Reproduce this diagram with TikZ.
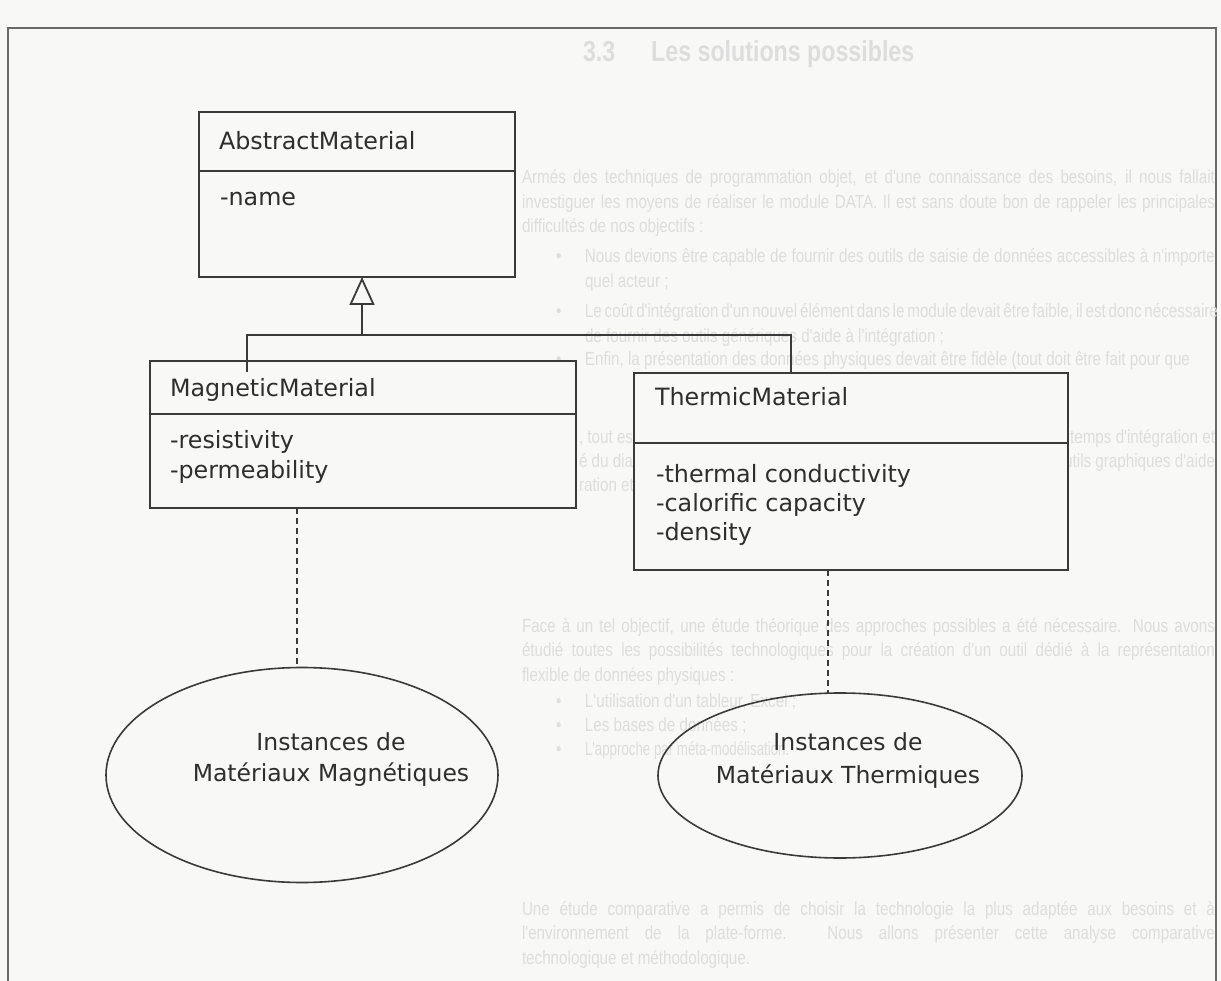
\documentclass[tikz,border=0pt]{standalone}
\usepackage{fontspec}
\setmainfont{DejaVu Sans}
\newfontfamily\ghostfont[FakeStretch=0.8]{Liberation Sans}
\newfontfamily\ghostnarrow[FakeStretch=0.7]{Liberation Sans}
\usetikzlibrary{arrows.meta,shapes.geometric}

\definecolor{paper}{RGB}{248,248,247}
\definecolor{ink}{RGB}{46,46,46}
\definecolor{edge}{RGB}{58,58,58}
\definecolor{ghostc}{RGB}{221,221,221}
\definecolor{framec}{RGB}{105,105,105}

% one justified line of the faint page text, and a last (ragged) line
\newcommand\gjust[2]{\hbox to #1{#2}}
\newcommand\glast[1]{\hbox{#1}}
\newcommand\gpar[1]{\vtop{\baselineskip=24.5pt #1}}

\begin{document}
\begin{tikzpicture}[x=1pt,y=-1pt,
  every node/.style={inner sep=0pt, outer sep=0pt},
  classbox/.style={draw=edge, line width=2pt, fill=paper, rectangle, anchor=north west},
  umltext/.style={anchor=base west, text=ink, font=\fontsize{23.8}{30}\selectfont},
  insttext/.style={anchor=base, text=ink, font=\fontsize{23.5}{30}\selectfont},
  divider/.style={draw=edge, line width=2pt},
  inherit/.style={draw=edge, line width=1.8pt},
  instline/.style={draw=edge, line width=1.8pt, dash pattern=on 6pt off 4pt},
  instance/.style={ellipse, draw=edge, line width=1.6pt},
  ghost/.style={anchor=base west, text=ghostc, font=\ghostfont\fontsize{19}{24.5}\selectfont},
]

% page
\fill[paper] (0,0) rectangle (1221,981);
\useasboundingbox (0,0) rectangle (1221,981);
\draw[framec, line width=2.2pt] (8,981) -- (8,28) -- (1216,28) -- (1216,981);

% faint text of the page behind the diagram
\node[ghost, font=\ghostfont\bfseries\fontsize{29}{30}\selectfont] (gtitle) at (583,62)
  {3.3\hspace{36pt}Les solutions possibles};
\node[ghost] (gpar1) at (522,184) {\gpar{%
  \gjust{693pt}{Armés des techniques de programmation objet, et d'une connaissance des besoins, il nous fallait}
  \gjust{693pt}{investiguer les moyens de réaliser le module DATA. Il est sans doute bon de rappeler les principales}
  \glast{difficultés de nos objectifs :}}};
\node[ghost] (gitem1) at (556,263) {\makebox[29pt][l]{•}\gpar{%
  \gjust{630pt}{Nous devions être capable de fournir des outils de saisie de données accessibles à n'importe}
  \glast{quel acteur ;}}};
\node[ghost] (gitem2) at (556,318) {\makebox[29pt][l]{•}\gpar{%
  \gjust{630pt}{Le coût d'intégration d'un nouvel élément dans le module devait être faible, il est donc nécessaire}
  \glast{de fournir des outils génériques d'aide à l'intégration ;}}};
\node[ghost] (gitem3) at (556,366) {\makebox[29pt][l]{•}\gpar{%
  \glast{Enfin, la présentation des données physiques devait être fidèle (tout doit être fait pour que}}};
% the paragraph between the two classes only shows in the gaps around them
\node[ghost] (gpar2a) at (579,443) {, tout est};
\node[ghost] (gpar2b) at (579,467) {é du dialo};
\node[ghost] (gpar2c) at (579,491) {ration et};
\node[ghost, anchor=base east] (gpar2d) at (1215,443) {temps d'intégration et};
\node[ghost, anchor=base east] (gpar2e) at (1215,467) {outils graphiques d'aide};
\node[ghost] (gpar3) at (522,632) {\gpar{%
  \gjust{693pt}{Face à un tel objectif, une étude théorique des approches possibles a été nécessaire. Nous avons}
  \gjust{693pt}{étudié toutes les possibilités technologiques pour la création d'un outil dédié à la représentation}
  \glast{flexible de données physiques :}}};
\node[ghost] (gitem4) at (556,707) {\makebox[29pt][l]{•}L'utilisation d'un tableur, Excel ;};
\node[ghost] (gitem5) at (556,731) {\makebox[29pt][l]{•}Les bases de données ;};
\node[ghost] (gitem6) at (556,755) {\makebox[29pt][l]{•}\ghostnarrow L'approche par méta-modélisation.};
\node[ghost] (gpar4) at (522,915) {\gpar{%
  \gjust{693pt}{Une étude comparative a permis de choisir la technologie la plus adaptée aux besoins et à}
  \gjust{693pt}{l'environnement de la plate-forme. Nous allons présenter cette analyse comparative}
  \glast{technologique et méthodologique.}}};

% classes
\node[classbox, minimum width=316pt, minimum height=165pt] (abs) at (199,112) {};
\draw[divider] (abs.west |- 0,171) -- (abs.east |- 0,171);
\node[umltext] (absname) at (219,150) {AbstractMaterial};
\node[umltext] (absattr) at (220,206) {-name};

\node[classbox, minimum width=426pt, minimum height=147pt] (mag) at (150,361) {};
\draw[divider] (mag.west |- 0,414) -- (mag.east |- 0,414);
\node[umltext] (magname) at (170,397) {MagneticMaterial};
\node[umltext] (magattr1) at (170,448) {-resistivity};
\node[umltext] (magattr2) at (170,478) {-permeability};

\node[classbox, minimum width=434pt, minimum height=197pt] (thm) at (634,373) {};
\draw[divider] (thm.west |- 0,443) -- (thm.east |- 0,443);
\node[umltext] (thmname) at (655,406) {ThermicMaterial};
\node[umltext] (thmattr1) at (656,482) {-thermal conductivity};
\node[umltext] (thmattr2) at (656,511) {-calorific capacity};
\node[umltext] (thmattr3) at (656,540) {-density};

% generalisation
\coordinate (fork) at (362,335);
\coordinate (magjoin) at (247,372);
\draw[inherit] (magjoin) |- (fork) -| (thm.north -| 791,0);
\draw[inherit, -{Triangle[open, length=28pt, width=25pt]}] (fork) -- (abs.south -| fork);

% instance sets
\node[instance, minimum width=392pt, minimum height=215pt] (magset) at (302,775) {};
\node[insttext] (magset1) at (331,750) {Instances de};
\node[insttext] (magset2) at (331,781) {Matériaux Magnétiques};
\draw[instline] (mag.south -| 297,0) -- (magset.north -| 297,0);

\node[instance, minimum width=364pt, minimum height=165pt] (thmset) at (840,775.5) {};
\node[insttext] (thmset1) at (848,750) {Instances de};
\node[insttext] (thmset2) at (848,783) {Matériaux Thermiques};
\draw[instline] (thm.south -| 828,0) -- (thmset.north -| 828,0);

\end{tikzpicture}
\end{document}
